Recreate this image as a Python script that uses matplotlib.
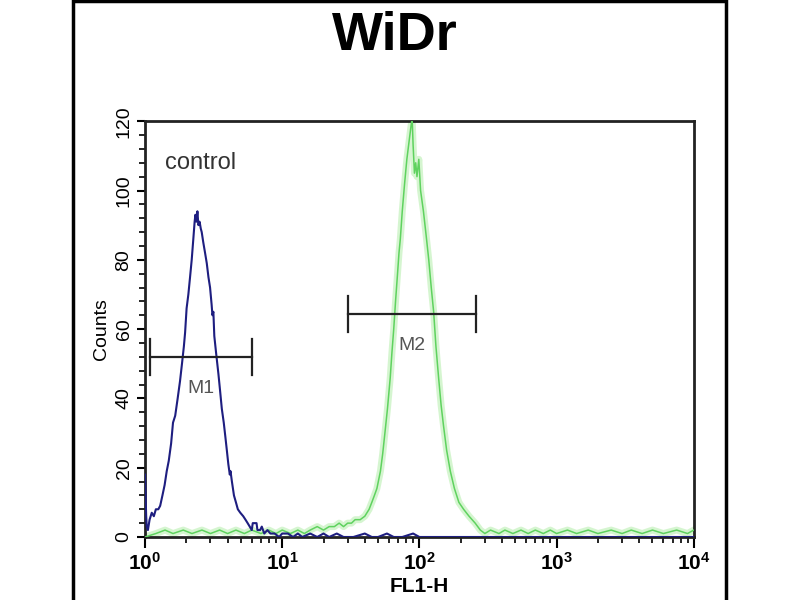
import numpy as np
import matplotlib.pyplot as plt
from matplotlib.patches import Rectangle
from matplotlib.ticker import FixedLocator, MultipleLocator, FuncFormatter, LogLocator

plt.rcParams['font.family'] = ['Liberation Sans', 'DejaVu Sans']
plt.rcParams['mathtext.fontset'] = 'custom'
plt.rcParams['mathtext.bf'] = 'Liberation Sans:bold'
plt.rcParams['mathtext.rm'] = 'Liberation Sans'

# control histogram (blue)
blue_x = [1.0, 1.01, 1.02, 1.03, 1.05, 1.08, 1.12, 1.16, 1.2, 1.25, 1.29, 1.34, 1.39, 1.44,
          1.49, 1.55, 1.60, 1.66, 1.73, 1.80, 1.86, 1.92, 1.96, 2.01, 2.07, 2.13, 2.19, 2.25,
          2.30, 2.33, 2.37, 2.41, 2.45, 2.50, 2.55, 2.59, 2.66, 2.74, 2.82, 2.90, 2.98, 3.06,
          3.10, 3.15, 3.20, 3.30, 3.43, 3.53, 3.63, 3.75, 3.85, 3.95, 4.05, 4.15, 4.20, 4.30,
          4.45, 4.60, 4.75, 4.95, 5.2, 5.4, 5.6, 5.8, 6.0, 6.1, 6.5, 6.6, 6.9, 7.1, 7.4, 7.8,
          8.2, 8.8, 9.5, 10, 11, 12, 13, 14, 16, 18, 20, 22, 25, 28, 33, 40, 45, 50, 58, 65,
          75, 90, 100, 120, 150, 200, 300, 500, 1000, 2000, 5000, 10000]
blue_y = [18, 12, 6, 3, 2, 5, 7, 6, 8, 8, 9, 12, 15, 19,
          22, 27, 33, 35, 40, 45, 50, 55, 59, 66, 70, 75, 80, 86,
          91, 93, 91, 94, 90, 91, 89, 88, 85, 82, 79, 75, 72, 67,
          64, 65, 58, 53, 47, 42, 37, 33, 29, 25, 21, 18, 19, 16,
          12, 10, 8, 7, 6, 5, 4, 3, 2, 4, 4, 2, 2, 3, 1, 2,
          1, 1, 0, 1, 1, 0, 1, 0, 1, 0, 1, 0, 1, 0, 0, 1, 0, 0, 1, 0,
          0, 1, 0, 0, 0, 0, 0, 0, 0, 0, 0, 0]

# WiDr stained histogram (green)
green_x = [1, 1.2, 1.4, 1.6, 1.9, 2.2, 2.6, 3, 3.5, 4, 4.6, 5.3, 6, 7, 8, 9, 10, 11.5, 13,
           14.5, 16, 18, 20, 22, 24, 26, 28, 30, 32, 34, 37, 40, 43, 45, 47, 49, 52, 54,
           56.4, 58.5, 61.3, 63, 65, 67, 69, 71, 72.6, 75, 78, 81, 84, 86.5, 88.5, 90, 92,
           94, 96, 99, 102, 107, 112, 117, 122, 127, 132, 138, 144, 150, 158, 168, 180, 194,
           210, 230, 255, 278, 300, 330, 380, 420, 480, 550, 620, 700, 800, 900, 1000, 1200,
           1400, 1700, 2000, 2500, 3000, 3500, 4200, 5000, 6000, 7500, 9000, 10000]
green_y = [0, 1, 2, 1, 2, 1, 2, 1, 2, 1, 2, 1, 2, 1, 2, 1, 2, 1, 2,
           1, 2, 3, 2, 3, 3, 4, 3, 4, 4, 5, 5, 6, 8, 10, 12, 14, 19, 24,
           31, 37, 46, 53, 60, 68, 75, 82, 86, 94, 102, 109, 114, 118, 121, 113, 105,
           108, 104, 109, 100, 94, 87, 80, 72, 65, 55, 46, 38, 32, 25, 19, 14, 10,
           8, 6, 4, 2, 1, 2, 1, 2, 1, 2, 1, 2, 1, 2, 1, 2,
           1, 2, 1, 2, 1, 2, 1, 2, 1, 2, 1, 2]

# markers
m1_range = [1.09, 6.07]
m1_level = 52
m2_range = [30.2, 259]
m2_level = 64.4

fig = plt.figure(figsize=(8, 6), dpi=100)
ax = fig.add_axes([0.18125, 0.105, 0.686, 0.693])

ax.plot(green_x, green_y, color='#c4f2bc', lw=5, alpha=0.7, zorder=2)
ax.plot(green_x, green_y, color='#5fd25f', lw=1.1, zorder=3)
ax.plot(blue_x, blue_y, color='#1e1e80', lw=1.5, zorder=4)

for (a, b), lev, name in [(m1_range, m1_level, 'M1'), (m2_range, m2_level, 'M2')]:
    ax.plot([a, b], [lev, lev], color='#222222', lw=1.6, zorder=5)
    ax.plot([a, a], [lev - 5.2, lev + 5.2], color='#222222', lw=1.6, zorder=5)
    ax.plot([b, b], [lev - 5.2, lev + 5.2], color='#222222', lw=1.6, zorder=5)
    ax.text(np.sqrt(a * b), lev - 9, name, ha='center', va='center',
            fontsize=14, color='#555555', zorder=1)

ax.text(1.4, 108, 'control', fontsize=17, color='#333333', va='center', ha='left')

ax.set_xscale('log')
ax.set_xlim(1, 1e4)
ax.set_ylim(0, 120)

ax.xaxis.set_major_locator(FixedLocator([1, 10, 100, 1000, 10000]))
ax.xaxis.set_minor_locator(LogLocator(base=10, subs=np.arange(2, 10), numticks=20))
ax.xaxis.set_major_formatter(FuncFormatter(lambda v, p: r'$\mathbf{10^{%d}}$' % round(np.log10(v))))
ax.yaxis.set_major_locator(MultipleLocator(20))
ax.yaxis.set_minor_locator(MultipleLocator(4))

for s in ax.spines.values():
    s.set_linewidth(2)
    s.set_color('#222222')

ax.tick_params(axis='x', which='major', length=8, width=1.5, labelsize=15, pad=3)
ax.tick_params(axis='x', which='minor', length=4, width=1.2)
ax.tick_params(axis='y', which='major', length=6, width=1.5, labelsize=14, labelrotation=90, pad=3)
ax.tick_params(axis='y', which='minor', length=4, width=1.2)
for lab in ax.get_yticklabels():
    lab.set_va('center')

ax.set_xlabel('FL1-H', fontsize=15, fontweight='bold', labelpad=2)
ax.set_ylabel('Counts', fontsize=14, labelpad=4)

fig.text(0.494, 0.94, 'WiDr', fontsize=39, fontweight='bold', ha='center', va='center')

fig.add_artist(Rectangle((0.0915, -0.01), 0.816, 1.008, transform=fig.transFigure,
                         fill=False, lw=2.5, edgecolor='black'))

fig.savefig('out.png', dpi=100)
